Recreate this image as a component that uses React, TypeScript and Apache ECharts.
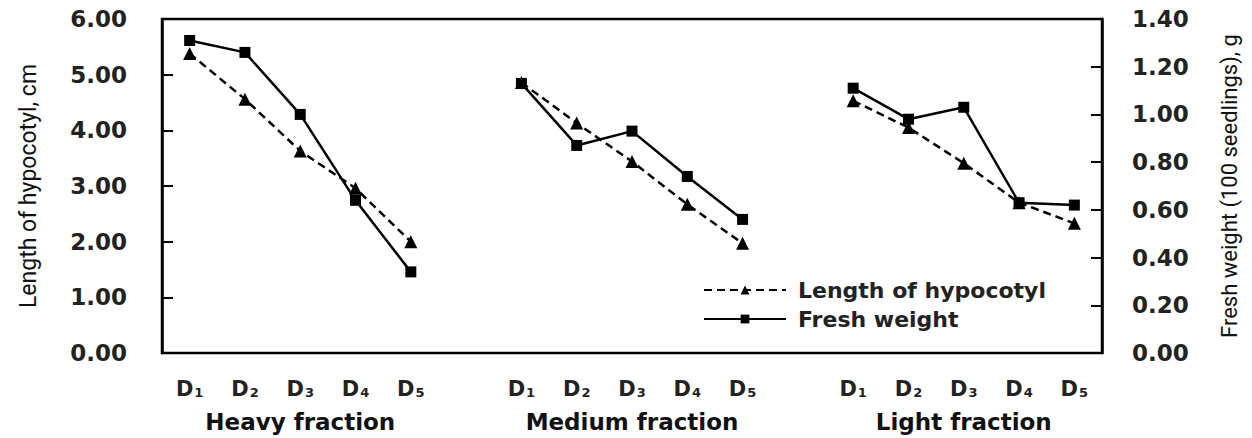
import React, { useEffect, useRef } from "react";
import * as echarts from "echarts";

const groups = ["Heavy fraction", "Medium fraction", "Light fraction"];
const doses = ["1", "2", "3", "4", "5"];

const hypocotylHeavy = [5.38, 4.56, 3.63, 2.96, 2.0];
const hypocotylMedium = [4.86, 4.13, 3.44, 2.67, 1.97];
const hypocotylLight = [4.53, 4.05, 3.41, 2.7, 2.33];

const freshHeavy = [1.31, 1.26, 1.0, 0.64, 0.34];
const freshMedium = [1.13, 0.87, 0.93, 0.74, 0.56];
const freshLight = [1.11, 0.98, 1.03, 0.63, 0.62];

const leftTicks = ["0.00", "1.00", "2.00", "3.00", "4.00", "5.00", "6.00"];
const rightTicks = ["0.00", "0.20", "0.40", "0.60", "0.80", "1.00", "1.20", "1.40"];

const seriesNames = ["Length of hypocotyl", "Fresh weight"];
const leftAxisName = "Length of hypocotyl, cm";
const rightAxisName = "Fresh weight (100 seedlings), g";

function buildCategories() {
  const cats: string[] = [];
  const groupCats: string[] = [];
  groups.forEach((g, gi) => {
    doses.forEach((d, di) => {
      cats.push(`${gi}|D|${d}`);
      groupCats.push(di === 2 ? g : `${gi}-${di}`);
    });
    if (gi < groups.length - 1) {
      cats.push(`${gi}|gap|`);
      groupCats.push(`gap${gi}`);
    }
  });
  return { cats, groupCats };
}

function buildSeries(parts: number[][]) {
  const out: (number | null)[] = [];
  parts.forEach((p, i) => {
    p.forEach((v) => out.push(v));
    if (i < parts.length - 1) out.push(null);
  });
  return out;
}

export default function App() {
  const ref = useRef<HTMLDivElement>(null);
  useEffect(() => {
    if (!ref.current) return;
    const chart = echarts.init(ref.current, undefined, { renderer: "svg" });
    const { cats, groupCats } = buildCategories();
    const hyp = buildSeries([hypocotylHeavy, hypocotylMedium, hypocotylLight]);
    const fresh = buildSeries([freshHeavy, freshMedium, freshLight]);
    const boldFont = "'DejaVu Sans', Verdana, sans-serif";
    chart.setOption({
      animation: false,
      backgroundColor: "#fff",
      grid: {
        left: 162,
        right: 150,
        top: 19,
        bottom: 85,
        show: true,
        borderColor: "#000",
        borderWidth: 2.5,
      },
      legend: {
        orient: "vertical",
        left: 698,
        top: 274,
        itemWidth: 82,
        itemHeight: 11,
        itemGap: 7,
        data: seriesNames,
        textStyle: {
          fontFamily: boldFont,
          fontWeight: "bold",
          fontSize: 22,
          color: "#222",
          padding: [0, 0, 0, 7],
        },
      },
      xAxis: [
        {
          type: "category",
          data: cats,
          boundaryGap: true,
          position: "bottom",
          axisLine: { show: false },
          axisTick: { show: false },
          splitLine: { show: false },
          axisLabel: {
            interval: 0,
            margin: 25,
            formatter: (v: string) => {
              const [, kind, d] = v.split("|");
              if (kind !== "D") return "";
              return `{d|D}{s|${d}}`;
            },
            rich: {
              d: { fontFamily: boldFont, fontWeight: "bold", fontSize: 21, color: "#222" },
              s: {
                fontFamily: boldFont,
                fontWeight: "bold",
                fontSize: 13,
                color: "#222",
                verticalAlign: "bottom",
                padding: [8, 0, 0, 1],
              },
            },
          },
        },
        {
          type: "category",
          data: groupCats,
          boundaryGap: true,
          position: "bottom",
          offset: 0,
          axisLine: { show: false },
          axisTick: { show: false },
          splitLine: { show: false },
          axisLabel: {
            interval: 0,
            margin: 57,
            fontFamily: boldFont,
            fontWeight: "bold",
            fontSize: 23,
            color: "#111",
            formatter: (v: string) => (groups.includes(v) ? v : ""),
          },
        },
      ],
      yAxis: [
        {
          type: "value",
          position: "left",
          min: 0,
          max: 6,
          interval: 1,
          name: leftAxisName,
          nameLocation: "middle",
          nameGap: 122,
          nameTextStyle: { fontFamily: "Roboto, sans-serif", fontSize: 23, color: "#111" },
          axisLine: { show: true, lineStyle: { color: "#000", width: 2.5 } },
          axisTick: { show: true, inside: true, length: 11, lineStyle: { color: "#000", width: 2 } },
          splitLine: { show: false },
          axisLabel: {
            margin: 35,
            fontFamily: boldFont,
            fontWeight: "bold",
            fontSize: 23,
            color: "#222",
            formatter: (v: number) => leftTicks[Math.round(v)] ?? v.toFixed(2),
          },
        },
        {
          type: "value",
          position: "right",
          min: 0,
          max: 1.4,
          interval: 0.2,
          name: rightAxisName,
          nameLocation: "middle",
          nameGap: 116,
          nameTextStyle: { fontFamily: "Roboto, sans-serif", fontSize: 22, color: "#111" },
          axisLine: { show: true, lineStyle: { color: "#000", width: 2.5 } },
          axisTick: { show: true, inside: true, length: 11, lineStyle: { color: "#000", width: 2 } },
          splitLine: { show: false },
          axisLabel: {
            margin: 30,
            fontFamily: boldFont,
            fontWeight: "bold",
            fontSize: 23,
            color: "#222",
            formatter: (v: number) => rightTicks[Math.round(v / 0.2)] ?? v.toFixed(2),
          },
        },
      ],
      series: [
        {
          name: seriesNames[0],
          type: "line",
          xAxisIndex: 0,
          yAxisIndex: 0,
          data: hyp,
          connectNulls: false,
          symbol: "triangle",
          symbolSize: 13,
          showAllSymbol: true,
          lineStyle: { color: "#000", width: 2.5, type: [8, 5] },
          itemStyle: { color: "#000" },
          z: 3,
        },
        {
          name: seriesNames[1],
          type: "line",
          xAxisIndex: 0,
          yAxisIndex: 1,
          data: fresh,
          connectNulls: false,
          symbol: "rect",
          symbolSize: 11,
          showAllSymbol: true,
          lineStyle: { color: "#000", width: 2.5, type: "solid" },
          itemStyle: { color: "#000" },
          z: 4,
        },
      ],
    });
    return () => chart.dispose();
  }, []);
  return (
    <div
      ref={ref}
      style={{ position: "fixed", left: 0, top: 0, width: 1252, height: 438, background: "#fff" }}
    />
  );
}
